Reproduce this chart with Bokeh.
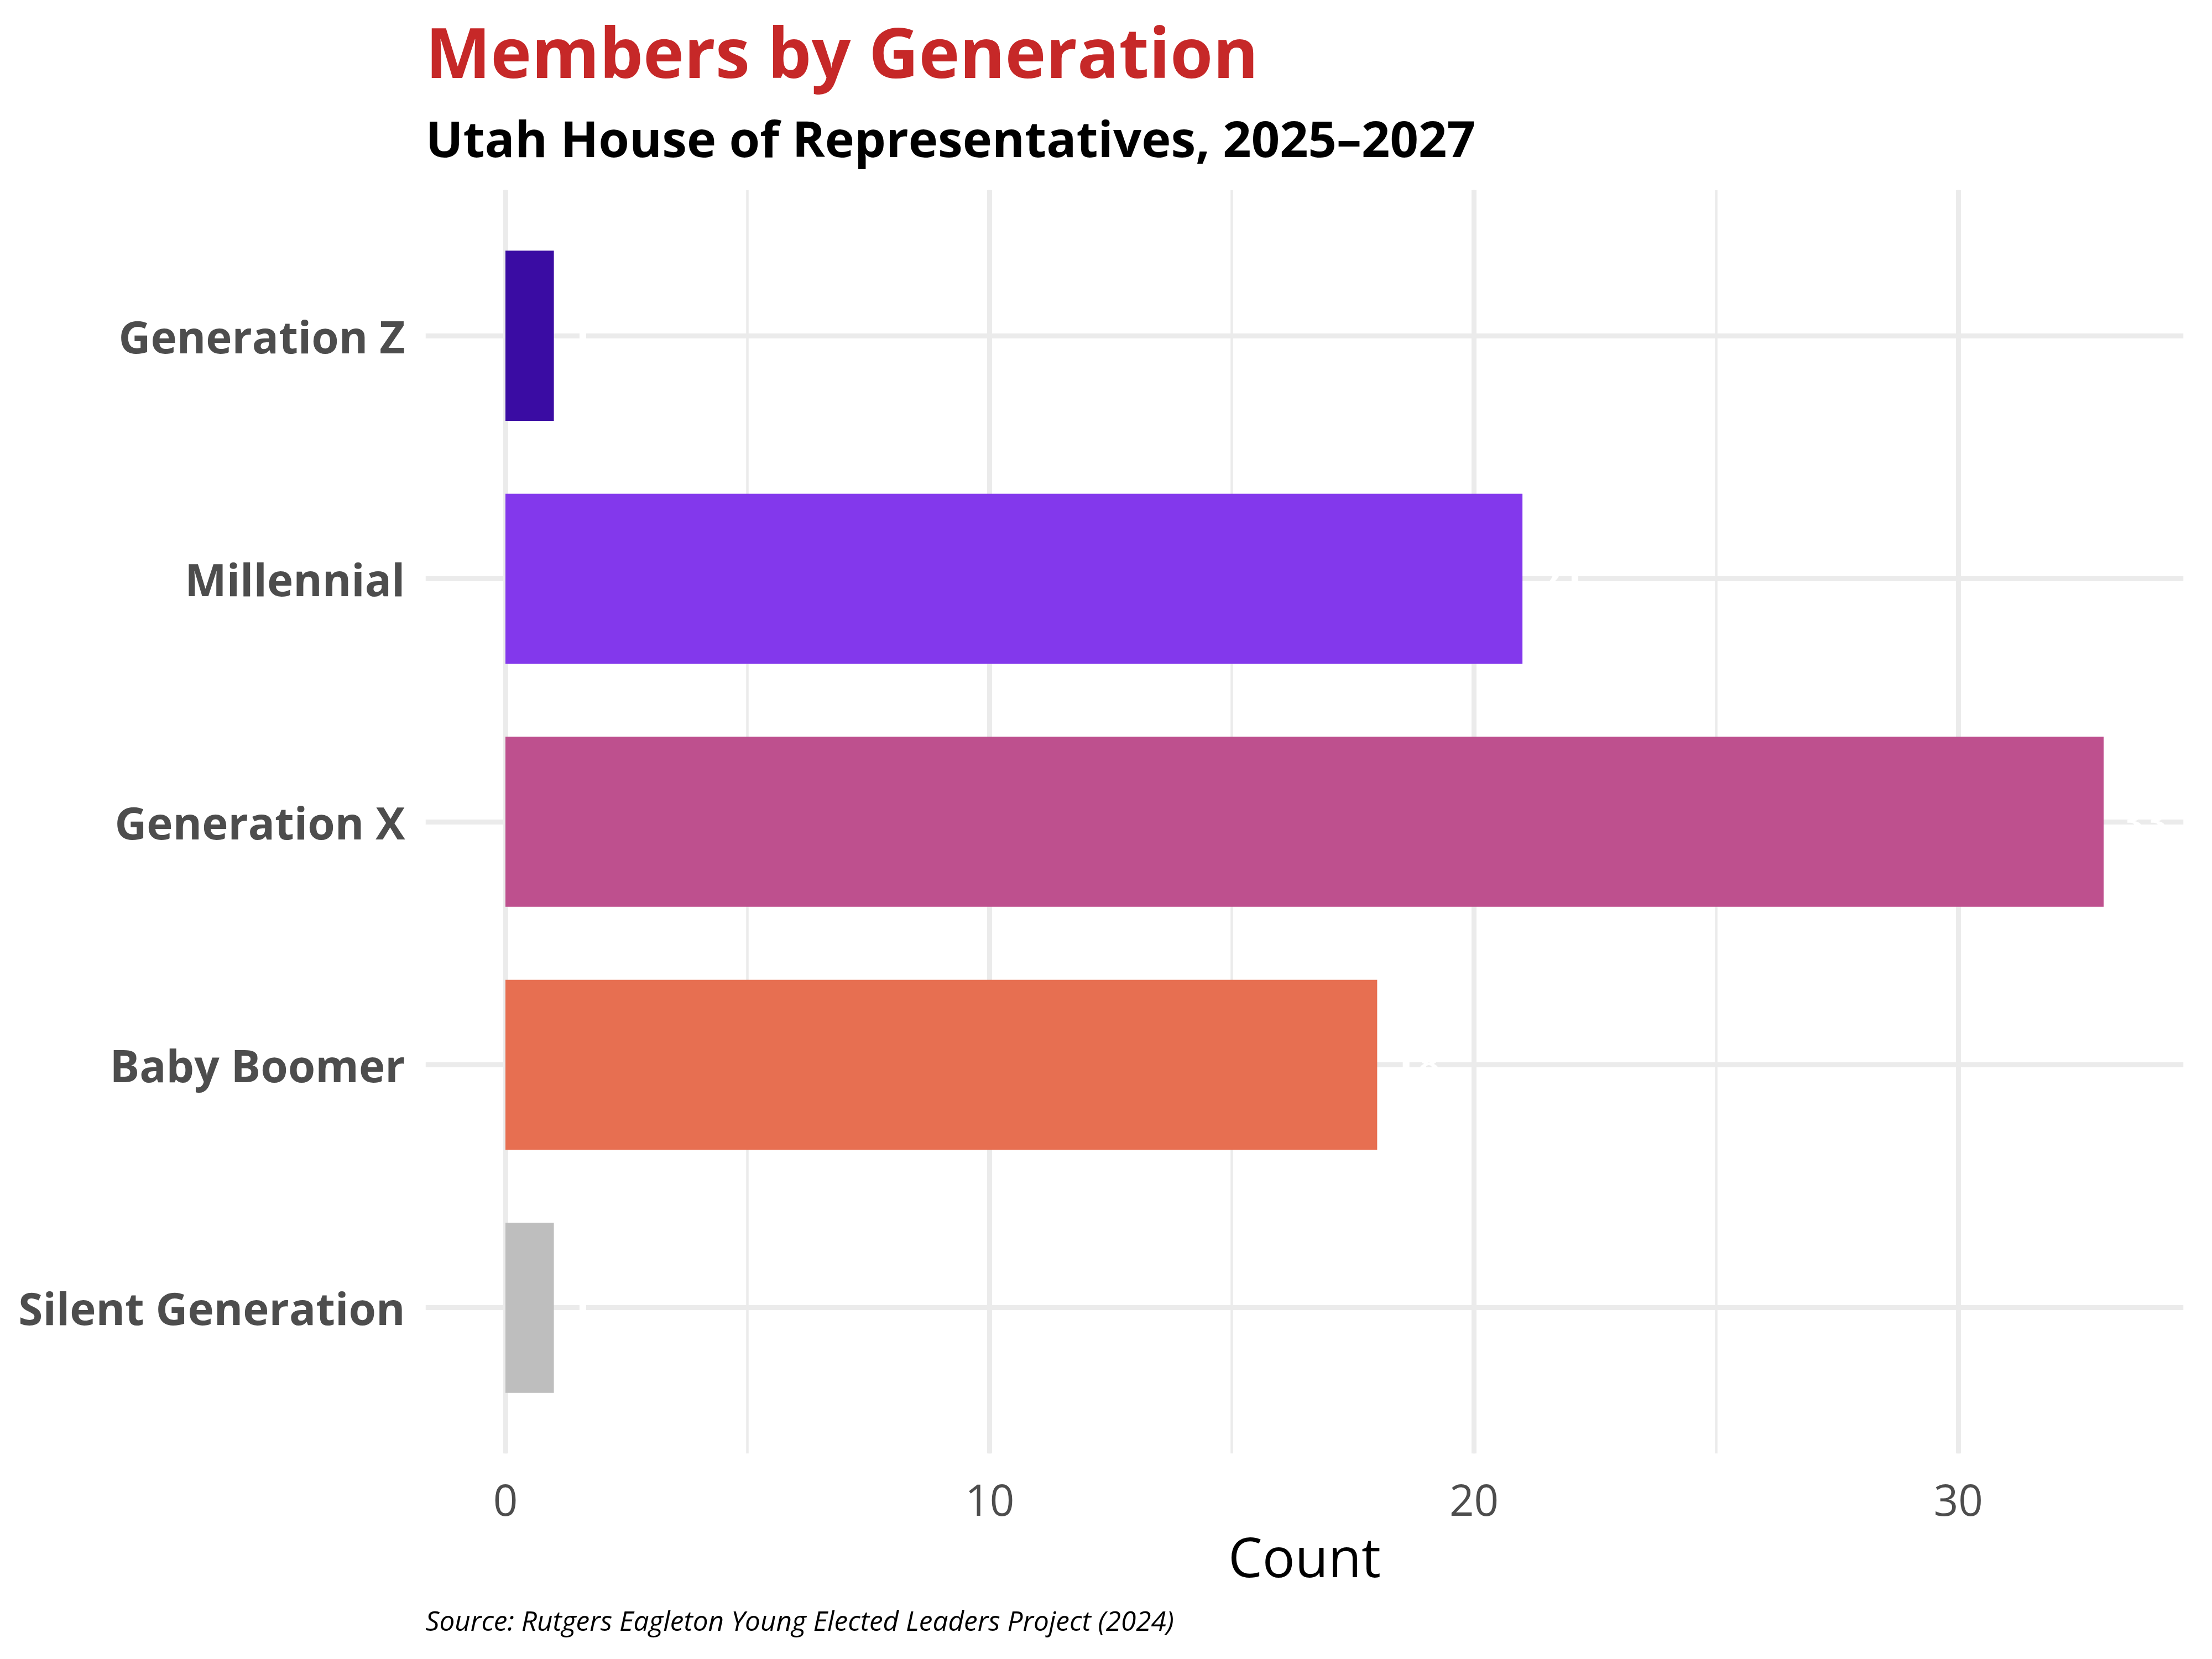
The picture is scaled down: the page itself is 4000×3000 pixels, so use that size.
from bokeh.plotting import figure
from bokeh.models import (ColumnDataSource, FactorRange, Range1d, SingleIntervalTicker,
                          Title, LabelSet)
from bokeh.embed import file_html
from bokeh.resources import INLINE

# ---- data ----
generations = ["Silent Generation", "Baby Boomer", "Generation X", "Millennial", "Generation Z"]
counts = [1, 18, 33, 21, 1]
colors = ["#BEBEBE", "#E76F51", "#BE508E", "#8338EC", "#3A0CA3"]
count_labels = [str(c) for c in counts]

title_text = "Members by Generation"
subtitle_text = "Utah House of Representatives, 2025\u20132027"
source_text = "Source: Rutgers Eagleton Young Elected Leaders Project (2024)"
x_label = "Count"

FONT = "Open Sans"
W, H = 3984, 2984

src = ColumnDataSource(dict(gen=generations, count=counts, color=colors, lab=count_labels))

xmax = max(counts)
p = figure(width=W, height=H, output_backend="svg", toolbar_location=None,
           y_range=FactorRange(factors=generations, range_padding=0.1,
                               range_padding_units="absolute"),
           x_range=Range1d(-0.05 * xmax, xmax * 1.05),
           min_border_left=769, min_border_right=36,
           min_border_top=343, min_border_bottom=356)
p.background_fill_color = "white"
p.border_fill_color = "white"
p.outline_line_color = None

p.hbar(y="gen", right="count", left=0, height=0.7, color="color", line_color=None, source=src)

labels = LabelSet(x="count", y="gen", text="lab", source=src, x_offset=30,
                  text_align="left", text_baseline="middle", text_color="white",
                  text_font=FONT, text_font_style="bold", text_font_size="85px")
p.add_layout(labels)

# grid
p.xaxis.ticker = SingleIntervalTicker(interval=10, num_minor_ticks=2)
p.xgrid.grid_line_color = "#EBEBEB"
p.xgrid.grid_line_width = 9
p.xgrid.minor_grid_line_color = "#EBEBEB"
p.xgrid.minor_grid_line_width = 4.5
p.ygrid.grid_line_color = "#EBEBEB"
p.ygrid.grid_line_width = 9

# axes
for ax in (p.xaxis, p.yaxis):
    ax.axis_line_color = None
    ax.major_tick_line_color = None
    ax.minor_tick_line_color = None
    ax.major_tick_out = 0
    ax.minor_tick_out = 0
    ax.major_label_text_font = FONT
    ax.major_label_text_color = "#4D4D4D"

p.xaxis.major_label_text_font_size = "78px"
p.xaxis.major_label_standoff = 55
p.xaxis.axis_label = x_label
p.xaxis.axis_label_text_font = FONT
p.xaxis.axis_label_text_font_size = "98px"
p.xaxis.axis_label_text_font_style = "normal"
p.xaxis.axis_label_text_color = "black"
p.xaxis.axis_label_standoff = 3

p.yaxis.major_label_text_font_size = "80px"
p.yaxis.major_label_text_font_style = "bold"
p.yaxis.major_label_standoff = 37

# titles and caption
p.add_layout(Title(text=subtitle_text, align="left", offset=0, standoff=68,
                   text_font=FONT, text_font_style="bold", text_font_size="90px",
                   text_color="black"), "above")
p.add_layout(Title(text=title_text, align="left", offset=0, standoff=-53,
                   text_font=FONT, text_font_style="bold", text_font_size="125px",
                   text_color="#C62828"), "above")
p.add_layout(Title(text=source_text, align="left", offset=0, standoff=20,
                   text_font=FONT, text_font_style="italic", text_font_size="49.5px",
                   text_color="black"), "below")

open("out.html", "w").write(file_html(p, INLINE))
